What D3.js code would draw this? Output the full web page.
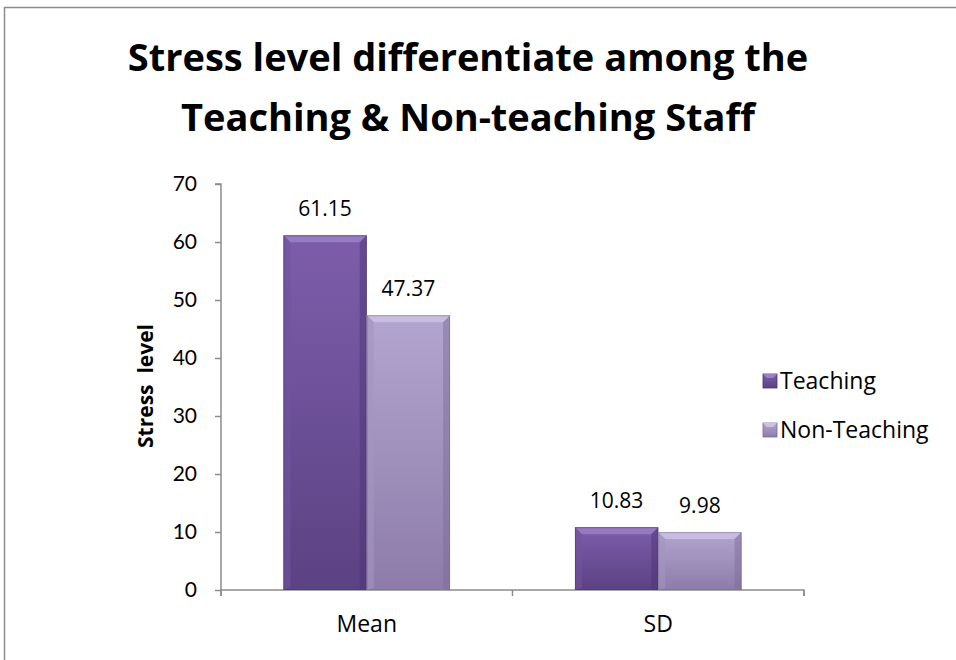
<!DOCTYPE html>
<html><head><meta charset="utf-8">
<script src="https://cdn.jsdelivr.net/npm/d3@7/dist/d3.min.js"></script>
<style>
html,body{margin:0;padding:0;background:#fff;}
svg{display:block;}
</style></head>
<body>
<svg id="chart" width="956" height="660"></svg>
<script>
const categories = ["Mean", "SD"];
const seriesNames = ["Teaching", "Non-Teaching"];
const teaching = [61.15, 10.83];
const nonTeaching = [47.37, 9.98];
const yTicks = [0, 10, 20, 30, 40, 50, 60, 70];
const titleLines = ["Stress level differentiate among the", "Teaching & Non-teaching Staff"];

const svg = d3.select("#chart");
const W = 956, H = 660;

// frame
svg.append("path").attr("d", `M4.5,${H} L4.5,7.5 L${W},7.5`)
  .attr("fill", "none").attr("stroke", "#8c8c8c").attr("stroke-width", 1.5);

const defs = svg.append("defs");
const colors = [
  {id: "g0", top: "#7d5dab", bot: "#5b4283", mid: "#72539e", light: "#9a80c4", dark: "#4b3470"},
  {id: "g1", top: "#b2a5cf", bot: "#8d7ca9", mid: "#a495c0", light: "#cdc2e4", dark: "#7a6a96"}
];
colors.forEach(c => {
  const g = defs.append("linearGradient").attr("id", c.id).attr("x1", 0).attr("y1", 0).attr("x2", 0).attr("y2", 1);
  g.append("stop").attr("offset", "0%").attr("stop-color", c.top);
  g.append("stop").attr("offset", "100%").attr("stop-color", c.bot);
});

const x0 = d3.scaleBand().domain(categories).range([221, 804]).paddingInner(0).paddingOuter(0);
const x1 = d3.scaleBand().domain(seriesNames).range([0, x0.bandwidth()]).paddingInner(0).paddingOuter(0.75);
const y = d3.scaleLinear().domain([0, 70]).range([590, 184]);

// y axis
const yAxis = d3.axisLeft(y).tickValues(yTicks).tickSize(6).tickPadding(18).tickFormat(d3.format("d"));
const gy = svg.append("g").attr("transform", "translate(221,0)").call(yAxis);
gy.select(".domain").attr("stroke", "#8c8c8c").attr("stroke-width", 1.5).attr("d", `M-6,${y(70)}H0V${y(0)}`);
gy.selectAll(".tick line").attr("stroke", "#8c8c8c").attr("stroke-width", 1.5);
gy.selectAll(".tick text").attr("font-family", "'URW Gothic', 'Century Gothic', 'Lato', sans-serif")
  .attr("font-size", 21).attr("fill", "#000");

// x axis
const xAxis = d3.axisBottom(x0).tickSize(0).tickPadding(26);
const gx = svg.append("g").attr("transform", `translate(0,${y(0)})`).call(xAxis);
gx.select(".domain").attr("stroke", "#8c8c8c").attr("stroke-width", 1.5).attr("d", `M221,6V0H804V6`);
gx.selectAll(".tick text").attr("font-family", "'Open Sans', sans-serif").attr("font-size", 23).attr("fill", "#000");
const seps = [x0.range()[0], x0(categories[1]), x0.range()[1]];
gx.selectAll(".sep").data(seps).enter().append("line").attr("class", "sep")
  .attr("x1", d => d).attr("x2", d => d).attr("y1", 0).attr("y2", 6)
  .attr("stroke", "#8c8c8c").attr("stroke-width", 1.5);

// bars
const series = [teaching, nonTeaching];
const bars = [];
categories.forEach((cat, ci) => {
  seriesNames.forEach((s, si) => {
    bars.push({cat, s, si, v: series[si][ci]});
  });
});

const bw = x1.bandwidth();
const bev = 7;
const bg = svg.append("g");
bars.forEach(d => {
  const c = colors[d.si];
  const xl = x0(d.cat) + x1(d.s), xr = xl + bw;
  const yt = y(d.v), yb = y(0);
  const g = bg.append("g");
  g.append("rect").attr("x", xl).attr("y", yt).attr("width", bw).attr("height", yb - yt)
    .attr("fill", `url(#${c.id})`);
  g.append("path").attr("d", `M${xl},${yt}L${xr},${yt}L${xr - bev},${yt + bev}L${xl + bev},${yt + bev}Z`)
    .attr("fill", c.light).attr("opacity", 0.85);
  g.append("path").attr("d", `M${xl},${yt}L${xl + bev},${yt + bev}L${xl + bev},${yb - 2}L${xl},${yb}Z`)
    .attr("fill", c.mid).attr("opacity", 0.6);
  g.append("path").attr("d", `M${xr},${yt}L${xr - bev},${yt + bev}L${xr - bev},${yb - 2}L${xr},${yb}Z`)
    .attr("fill", c.dark).attr("opacity", 0.45);
  g.append("rect").attr("x", xl + 0.5).attr("y", yt + 0.5).attr("width", bw - 1).attr("height", yb - yt - 1)
    .attr("fill", "none").attr("stroke", c.dark).attr("stroke-opacity", 0.5).attr("stroke-width", 1);
  svg.append("text").attr("x", xl + bw / 2).attr("y", yt - 19).attr("text-anchor", "middle")
    .attr("font-family", "'Open Sans', sans-serif").attr("font-size", 21).attr("fill", "#000")
    .text(d3.format(".2f")(d.v));
});

// title
svg.selectAll(".title").data(titleLines).enter().append("text").attr("class", "title")
  .attr("x", 468).attr("y", (d, i) => 71 + i * 60).attr("text-anchor", "middle")
  .attr("font-family", "'Open Sans', sans-serif").attr("font-weight", "bold").attr("font-size", 38)
  .attr("fill", "#000").text(d => d);

// y title
svg.append("text").attr("transform", "translate(153,386) rotate(-90)").attr("text-anchor", "middle")
  .attr("font-family", "'Open Sans', sans-serif").attr("font-weight", "bold").attr("font-size", 21)
  .attr("fill", "#000").attr("xml:space", "preserve").text("Stress  level");

// legend
const lg = svg.append("g").selectAll("g").data(seriesNames).enter().append("g")
  .attr("transform", (d, i) => `translate(763,${374 + i * 49})`);
lg.append("rect").attr("x", 0).attr("y", 0).attr("width", 14).attr("height", 14)
  .attr("fill", (d, i) => `url(#g${i})`).attr("stroke", (d, i) => colors[i].dark).attr("stroke-width", 0.8);
lg.append("path").attr("d", "M0,0L14,0L10,4L4,4Z").attr("fill", (d, i) => colors[i].light);
lg.append("text").attr("x", 17).attr("y", 15).attr("font-family", "'Open Sans', sans-serif")
  .attr("font-size", 23).attr("fill", "#000").text(d => d);
</script>
</body></html>
